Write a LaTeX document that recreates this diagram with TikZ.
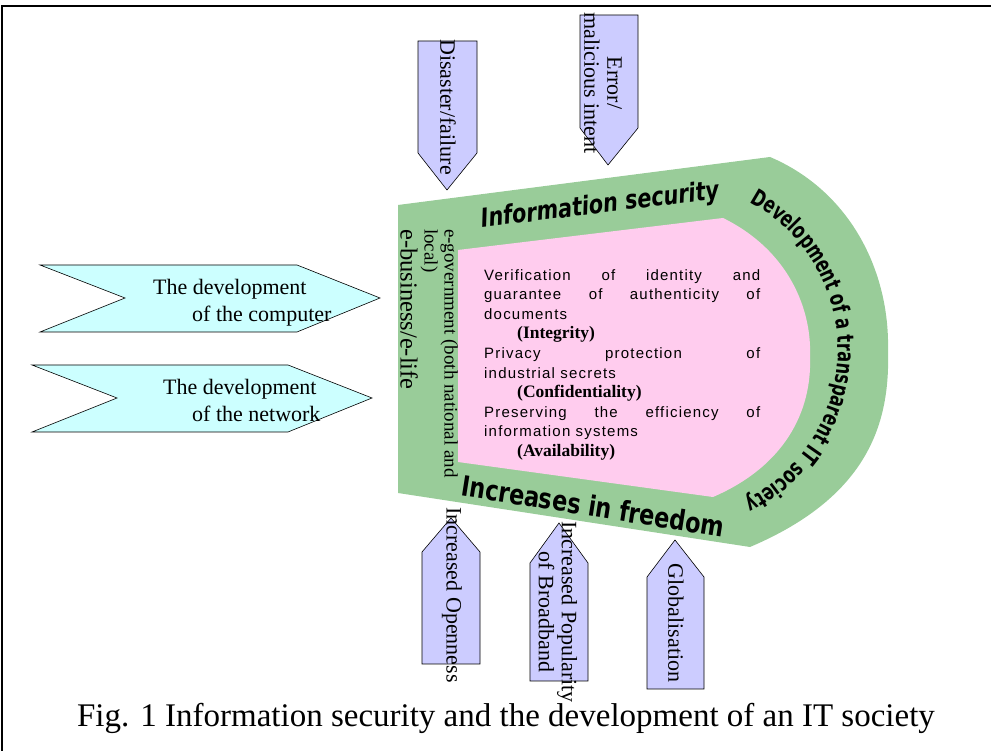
\documentclass[tikz,border=0pt]{standalone}
\usepackage{fontspec}
\setmainfont{Liberation Serif}
\newfontfamily\gothic[LetterSpace=8]{Liberation Sans}
\newfontfamily\narrowsans[FakeStretch=0.8]{DejaVu Sans}
\newfontfamily\arcsans[FakeStretch=0.7]{DejaVu Sans}
\usetikzlibrary{decorations.text}

\definecolor{ringgreen}{RGB}{153,204,153}
\definecolor{corepink}{RGB}{255,204,238}
\definecolor{boxblue}{RGB}{204,204,255}
\definecolor{boxcyan}{RGB}{204,255,255}

\newcommand{\ciaterm}[1]{\hspace*{33pt}{\rmfamily\bfseries\fontsize{17.5}{19.6}\selectfont #1}}

\begin{document}
\begin{tikzpicture}[x=1pt,y=1pt,
    sidelabel/.style={rotate=-90,align=center,inner sep=0pt,font=\fontsize{22}{23}\selectfont}]
    \useasboundingbox (0,0) rectangle (991,751);
    %% Frame
    \draw[line width=2.5pt] (2,0) -- (2,745) -- (991,745);
    %% Draw the ring and the core
    \fill[ringgreen] (398,546) -- (770,594) .. controls (850,560) and (890,480) .. (888,400)
        .. controls (890,330) and (870,255) .. (750,204) -- (398,258) -- cycle;
    \fill[corepink] (458,501) -- (723,533) .. controls (790,500) and (812,440) .. (810,394)
        .. controls (812,340) and (785,285) .. (713,254) -- (458,289) -- cycle;
    %% Draw the arrow boxes
    \begin{scope}[every path/.style={draw=black,line width=0.6pt}]
      \filldraw[fill=boxblue] (418,710) -- (477,710) -- (477,598) -- (447,561) -- (418,598) -- cycle;
      \filldraw[fill=boxblue] (580,736) -- (638,736) -- (638,623) -- (608,586) -- (580,623) -- cycle;
      \filldraw[fill=boxblue] (422,87) -- (480,87) -- (480,199) -- (451,233) -- (422,199) -- cycle;
      \filldraw[fill=boxblue] (530,70) -- (588,70) -- (588,188) -- (559,228) -- (530,188) -- cycle;
      \filldraw[fill=boxblue] (647,62) -- (704,62) -- (704,174) -- (675,211) -- (647,174) -- cycle;
      \filldraw[fill=boxcyan] (40,486) -- (297,486) -- (380,453) -- (297,419) -- (40,419) -- (125,453) -- cycle;
      \filldraw[fill=boxcyan] (32,386) -- (288,386) -- (372,353) -- (288,319) -- (32,319) -- (117,353) -- cycle;
    \end{scope}
    %% Draw the box labels
    \node[sidelabel] (disaster) at (448,644) {Disaster/failure};
    \node[sidelabel] (error) at (603,668) {Error/\\malicious intent};
    \node[sidelabel] (openness) at (452,156) {Increased Openness};
    \node[sidelabel] (broadband) at (558,139) {Increased Popularity\\of Broadband};
    \node[sidelabel] (global) at (676,128) {Globalisation};
    \node[anchor=west,align=left,inner sep=0pt,font=\fontsize{22}{27}\selectfont] (computer) at (153,448)
      {The development\\\hspace*{39pt}of the computer};
    \node[anchor=west,align=left,inner sep=0pt,font=\fontsize{22}{27}\selectfont] (network) at (163,351)
      {The development\\\hspace*{29pt}of the network};
    %% Draw the ring labels
    \node[rotate=7,font=\narrowsans\bfseries\itshape\fontsize{26}{26}\selectfont] (infosec) at (600,545)
      {Information security};
    \node[rotate=-9,font=\narrowsans\bfseries\fontsize{28}{28}\selectfont] (freedom) at (593,245)
      {Increases in freedom};
    \path[decorate,decoration={text along path,text align=center,
        text={|\arcsans\bfseries\fontsize{23}{23}\selectfont|Development of a transparent IT society}}]
      (670,401) ++(70:168) arc[start angle=70,end angle=-72,radius=168];
    \node[rotate=-90,anchor=north west,inner sep=0pt,font=\fontsize{24.5}{24.5}\selectfont] (ebiz) at (418,522)
      {e-business/e-life};
    \node[rotate=-90,anchor=north west,align=left,inner sep=0pt,font=\fontsize{19}{20}\selectfont] (egov) at (458,522)
      {e-government (both national and\\local)};
    %% Draw the core text
    \node[anchor=north west,text width=276pt,align=justify,inner sep=0pt,
          font=\gothic\fontsize{15}{19.6}\selectfont] (core) at (484,482)
      {Verification of identity and\linebreak guarantee of authenticity of\linebreak documents\\
       \ciaterm{(Integrity)}\\
       Privacy protection of\linebreak industrial secrets\\
       \ciaterm{(Confidentiality)}\\
       Preserving the efficiency of\linebreak information systems\\
       \ciaterm{(Availability)}};
    %% Caption
    \node[anchor=base,font=\fontsize{33}{33}\selectfont] (caption) at (506,24)
      {Fig. 1 Information security and the development of an IT society};
\end{tikzpicture}
\end{document}
